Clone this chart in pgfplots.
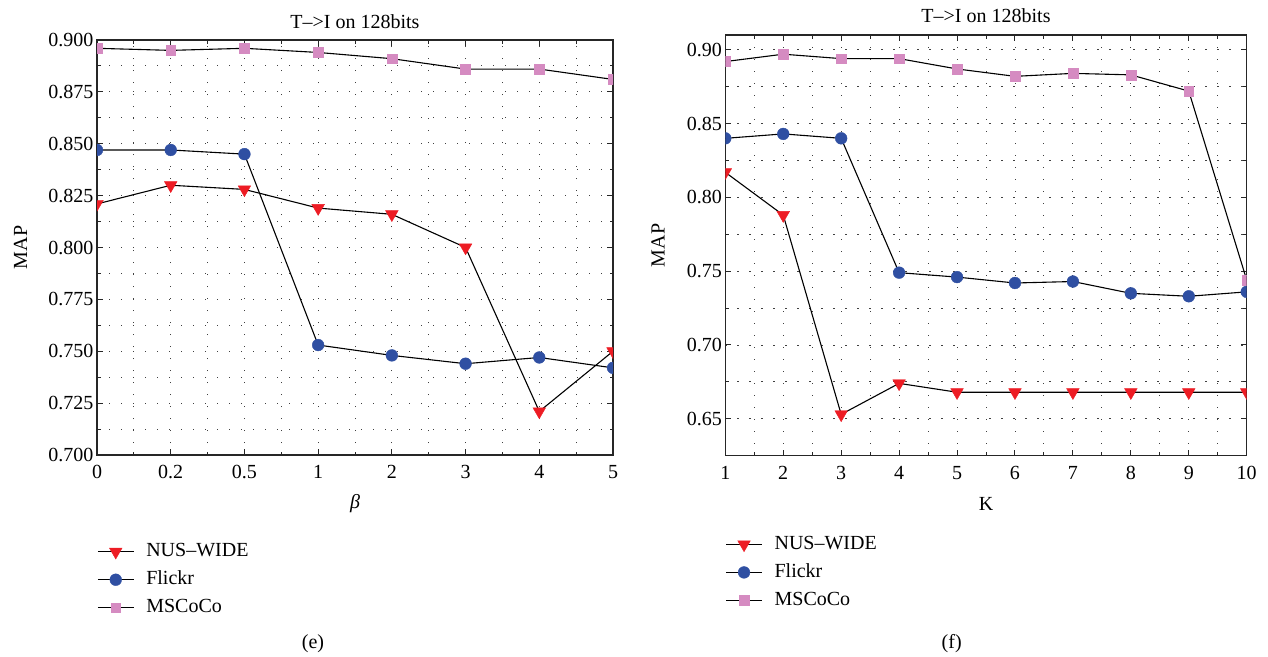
\documentclass[border=0pt]{standalone}
\usepackage{fontspec}
\setmainfont{Liberation Serif}
\usepackage{pgfplots}
\pgfplotsset{compat=1.18}

\definecolor{nusred}{RGB}{237,28,36}
\definecolor{flickrblue}{RGB}{47,79,162}
\definecolor{cocopink}{RGB}{213,139,193}

\newcommand{\bigfont}{\fontsize{20}{24}\selectfont}

\pgfplotsset{
  mapstyle/.style={
    scale only axis,
    axis line style={black!85, line width=1.2pt},
    tick align=inside,
    tick style={black!85, line width=1pt},
    major tick length=6pt,
    minor tick length=3.5pt,
    grid=both,
    major grid style={black!75, line width=0.9pt, dash pattern=on 1.2pt off 10.8pt},
    minor grid style={black!75, line width=0.9pt, dash pattern=on 1.2pt off 10.8pt},
    tick label style={font=\bigfont},
    xticklabel style={yshift=-7pt},
    label style={font=\bigfont},
    title style={font=\bigfont},
    /pgf/number format/assume math mode=true,
    clip marker paths=true,
    every axis plot/.append style={black, line width=1.1pt},
    legend style={draw=none, fill=none, font=\bigfont, inner sep=0pt,
      cells={anchor=west}, row sep=10pt, column sep=12pt,
      nodes={inner sep=0pt, text height=14pt, text depth=4pt}},
    legend image code/.code={%
      \draw[mark repeat=2,mark phase=2] plot coordinates {(0pt,0pt)(18pt,0pt)(36pt,0pt)};},
  },
  nus/.style={mark=triangle*, mark size=7.3pt,
    mark options={solid, rotate=180, color=nusred, draw=nusred, fill=nusred, line width=0.4pt}},
  flickr/.style={mark=*, mark size=5.9pt,
    mark options={solid, color=flickrblue, draw=flickrblue, fill=flickrblue, line width=0.4pt}},
  coco/.style={mark=square*, mark size=4.9pt,
    mark options={solid, color=cocopink, draw=cocopink, fill=cocopink, line width=0.4pt}},
}

% MAP against beta (categories 0, 0.2, 0.5, 1, 2, 3, 4, 5 at positions 0..7)
\pgfplotstableread{
x  nus    flickr  coco
0  0.821  0.847   0.896
1  0.830  0.847   0.895
2  0.828  0.845   0.896
3  0.819  0.753   0.894
4  0.816  0.748   0.891
5  0.800  0.744   0.886
6  0.721  0.747   0.886
7  0.750  0.742   0.881
}\betatable

% MAP against K
\pgfplotstableread{
x   nus    flickr  coco
1   0.817  0.840   0.892
2   0.788  0.843   0.897
3   0.653  0.840   0.894
4   0.674  0.749   0.894
5   0.668  0.746   0.887
6   0.668  0.742   0.882
7   0.668  0.743   0.884
8   0.668  0.735   0.883
9   0.668  0.733   0.872
10  0.668  0.736   0.744
}\ktable

\begin{document}
\begin{tikzpicture}
\path[use as bounding box] (0pt,0pt) rectangle (1268pt,-656pt);

\begin{axis}[mapstyle,
  at={(97pt,-455pt)}, anchor=south west,
  width=516pt, height=415pt,
  xmin=0, xmax=7,
  xtick={0,1,2,3,4,5,6,7},
  xticklabels={0,0.2,0.5,1,2,3,4,5},
  minor x tick num=1,
  ymin=0.7, ymax=0.9,
  ytick={0.700,0.725,0.750,0.775,0.800,0.825,0.850,0.875,0.900},
  minor y tick num=1,
  yticklabel style={/pgf/number format/.cd, fixed, fixed zerofill, precision=3},
  title={T–>I on 128bits},
  title style={at={(axis description cs:0.5,1.046)}, anchor=center, yshift=-7pt},
  xlabel={\textit{β}},
  xlabel style={at={(axis description cs:0.5,-0.116)}, anchor=center},
  ylabel={MAP},
  ylabel style={at={(axis description cs:-0.148,0.5)}, anchor=center, rotate=0},
  legend style={at={(axis description cs:0,-0.3005)}, anchor=west},
]
\addplot[nus] table[x=x, y=nus] {\betatable};
\addlegendentry{NUS–WIDE}
\addplot[flickr] table[x=x, y=flickr] {\betatable};
\addlegendentry{Flickr}
\addplot[coco] table[x=x, y=coco] {\betatable};
\addlegendentry{MSCoCo}
\end{axis}

\begin{axis}[mapstyle,
  at={(725.3pt,-455.7pt)}, anchor=south west,
  width=521.4pt, height=420.7pt,
  xmin=1, xmax=10,
  xtick={1,2,3,4,5,6,7,8,9,10},
  minor x tick num=1,
  ymin=0.625, ymax=0.91,
  ytick={0.65,0.70,0.75,0.80,0.85,0.90},
  minor y tick num=1,
  yticklabel style={/pgf/number format/.cd, fixed, fixed zerofill, precision=2},
  title={T–>I on 128bits},
  title style={at={(axis description cs:0.5,1.048)}, anchor=center, yshift=-7pt},
  xlabel={K},
  xlabel style={at={(axis description cs:0.5,-0.114)}, anchor=center},
  ylabel={MAP},
  ylabel style={at={(axis description cs:-0.129,0.5)}, anchor=center, rotate=0},
  legend style={at={(axis description cs:0,-0.2774)}, anchor=west},
]
\addplot[nus] table[x=x, y=nus] {\ktable};
\addlegendentry{NUS–WIDE}
\addplot[flickr] table[x=x, y=flickr] {\ktable};
\addlegendentry{Flickr}
\addplot[coco] table[x=x, y=coco] {\ktable};
\addlegendentry{MSCoCo}
\end{axis}

\node[font=\bigfont] at (313pt,-644pt) {(e)};
\node[font=\bigfont] at (951.7pt,-644pt) {(f)};
\end{tikzpicture}
\end{document}
